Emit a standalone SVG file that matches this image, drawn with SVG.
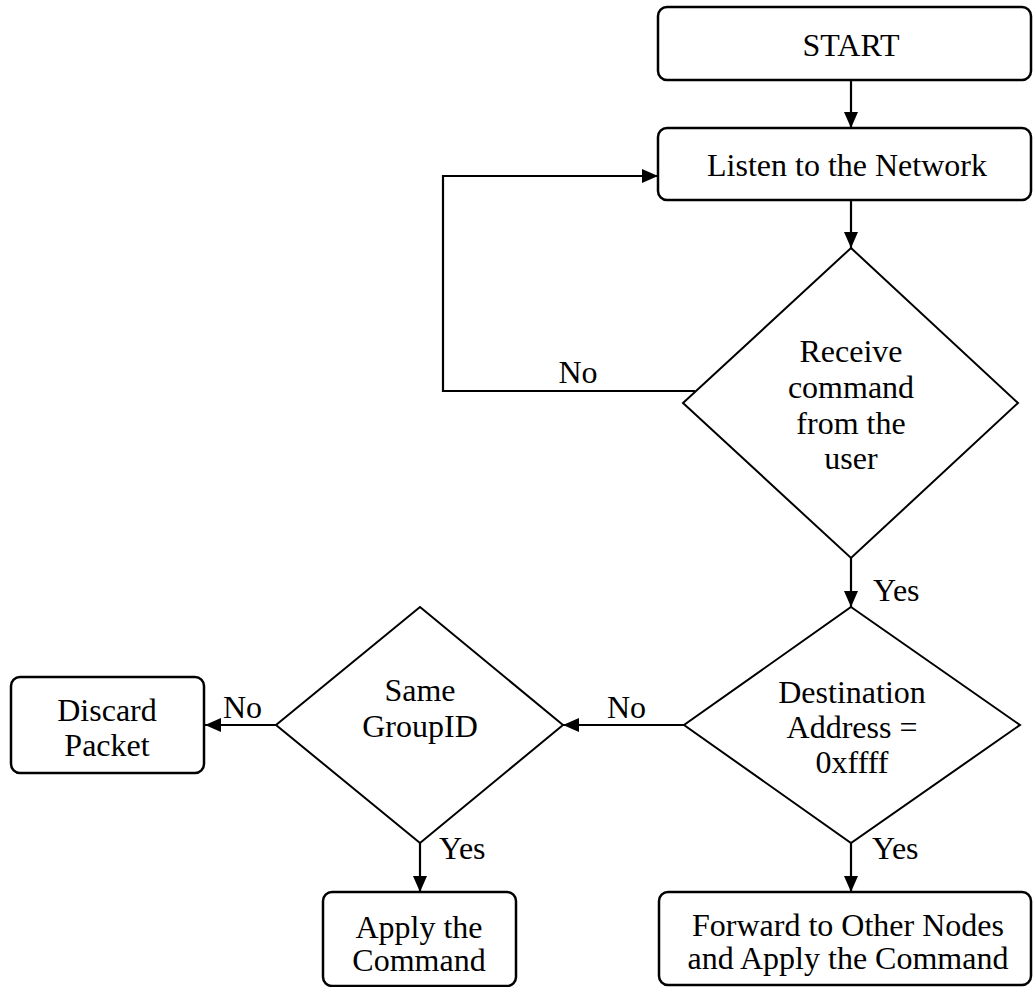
<svg xmlns="http://www.w3.org/2000/svg" width="1034" height="987" viewBox="0 0 1034 987">
<style>
.box{fill:#fff;stroke:#000;stroke-width:2.5}
.dia{fill:#fff;stroke:#000;stroke-width:2}
.ln{fill:none;stroke:#000;stroke-width:2.2}
text{font-family:"Liberation Serif","Times New Roman",serif;font-size:32px;fill:#000}
.c{text-anchor:middle}
</style>
<defs>
<marker id="ah" markerWidth="16" markerHeight="14" refX="16" refY="7" orient="auto" markerUnits="userSpaceOnUse">
<path d="M0,0 L16,7 L0,14 Z" fill="#000"/>
</marker>
</defs>
<rect width="1034" height="987" fill="#fff"/>
<g id="connectors">
<line class="ln" x1="851" y1="80" x2="851" y2="128" marker-end="url(#ah)"/>
<line class="ln" x1="851" y1="200" x2="851" y2="248" marker-end="url(#ah)"/>
<polyline class="ln" points="695,391 443,391 443,176 658,176" marker-end="url(#ah)"/>
<line class="ln" x1="851" y1="558" x2="851" y2="607" marker-end="url(#ah)"/>
<line class="ln" x1="684" y1="725" x2="563" y2="725" marker-end="url(#ah)"/>
<line class="ln" x1="276" y1="725" x2="205" y2="725" marker-end="url(#ah)"/>
<line class="ln" x1="420" y1="843" x2="420" y2="892" marker-end="url(#ah)"/>
<line class="ln" x1="851" y1="843" x2="851" y2="892" marker-end="url(#ah)"/>
<text x="578" y="383" class="c">No</text>
<text x="873" y="601">Yes</text>
<text x="607" y="718">No</text>
<text x="223" y="718">No</text>
<text x="439" y="859">Yes</text>
<text x="872" y="859">Yes</text>
</g>
<g id="start">
<rect class="box" x="658" y="7" width="373" height="73" rx="9"/>
<text x="851" y="56" class="c">START</text>
</g>
<g id="listen">
<rect class="box" x="658" y="128" width="373" height="72" rx="9"/>
<text x="847" y="176" class="c">Listen to the Network</text>
</g>
<g id="receive">
<polygon class="dia" points="851,248 1018,403 851,558 683,403"/>
<text x="851" y="362" class="c">Receive</text>
<text x="851" y="398" class="c">command</text>
<text x="851" y="434" class="c">from the</text>
<text x="851" y="469" class="c">user</text>
</g>
<g id="destination">
<polygon class="dia" points="851,607 1020,725 851,843 684,725"/>
<text x="852" y="703" class="c">Destination</text>
<text x="852" y="738" class="c">Address =</text>
<text x="852" y="773" class="c">0xffff</text>
</g>
<g id="groupid">
<polygon class="dia" points="420,607 563,725 420,843 276,725"/>
<text x="420" y="701" class="c">Same</text>
<text x="420" y="737" class="c">GroupID</text>
</g>
<g id="discard">
<rect class="box" x="11" y="677" width="193" height="96" rx="9"/>
<text x="107" y="721" class="c">Discard</text>
<text x="107" y="756" class="c">Packet</text>
</g>
<g id="apply">
<rect class="box" x="323" y="892" width="193" height="94" rx="9"/>
<text x="419" y="938" class="c">Apply the</text>
<text x="419" y="971" class="c">Command</text>
</g>
<g id="forward">
<rect class="box" x="659" y="892" width="372" height="93" rx="9"/>
<text x="848" y="936" class="c">Forward to Other Nodes</text>
<text x="848" y="969" class="c">and Apply the Command</text>
</g>
</svg>
